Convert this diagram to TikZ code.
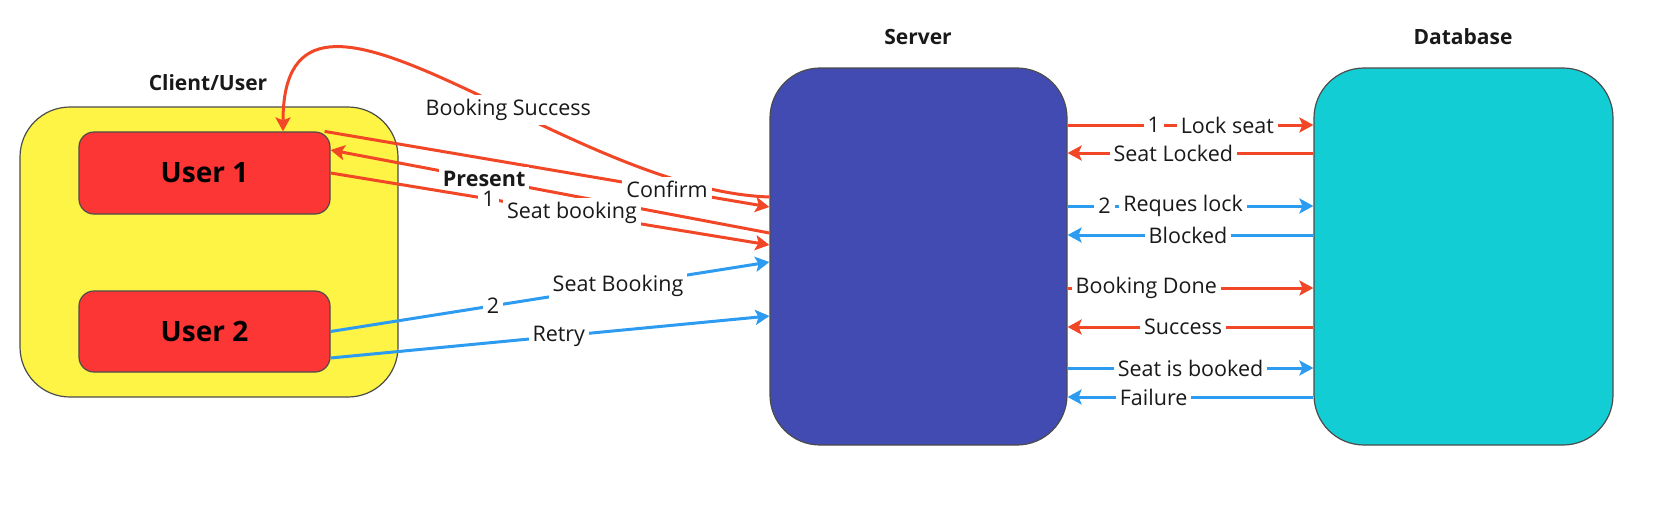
\documentclass[tikz,border=0pt]{standalone}
\usepackage{fontspec}
\setmainfont{Open Sans}
\usetikzlibrary{arrows.meta}
\definecolor{myellow}{HTML}{FEF445}
\definecolor{mred}{HTML}{FC3535}
\definecolor{marrow}{HTML}{F24726}
\definecolor{mblue}{HTML}{2D9BF0}
\definecolor{mserver}{HTML}{414BB2}
\definecolor{mdb}{HTML}{12CDD4}
\tikzset{
  box/.style={draw=black!70, line width=1.2pt, inner sep=0pt},
  head/.style={font=\fontsize{21}{25}\selectfont\bfseries, text=black!90},
  lbl/.style={fill=white, inner sep=4pt, text=black!90, font=\fontsize{21.5}{26}\selectfont},
  redarr/.style={draw=marrow, line width=3pt, -{Stealth[length=14pt,width=15pt,inset=3pt]}},
  bluearr/.style={draw=mblue, line width=3pt, -{Stealth[length=14pt,width=15pt,inset=3pt]}}
}

\begin{document}
\begin{tikzpicture}[x=1pt, y=-1pt]
    \useasboundingbox (0,0) rectangle (1662,507);

    \node [box, fill=myellow, rounded corners=50pt, minimum width=378pt, minimum height=290pt] (client) at (209,252) {};
    \node [box, fill=mred, rounded corners=15pt, minimum width=251pt, minimum height=82pt, font=\fontsize{28}{33}\selectfont\bfseries] (user1) at (204.5,173) {User 1};
    \node [box, fill=mred, rounded corners=15pt, minimum width=251pt, minimum height=81pt, font=\fontsize{28}{33}\selectfont\bfseries] (user2) at (204.5,331.5) {User 2};
    \node [box, fill=mserver, rounded corners=50pt, minimum width=297pt, minimum height=377pt] (server) at (918.5,256.5) {};
    \node [box, fill=mdb, rounded corners=50pt, minimum width=299pt, minimum height=377pt] (db) at (1463.5,256.5) {};

    \node [head] (clienthead) at (208,83) {Client/User};
    \node [head] (serverhead) at (918,37) {Server};
    \node [head] (dbhead) at (1463,37) {Database};

    % client <-> server
    \draw [redarr] ([yshift=59.5pt]server.west) .. controls +(-208,-7) and +(0,-212) .. ([xshift=78.5pt]user1.north) node [lbl, pos=0.4] {Booking Success};
    \draw [redarr] ([xshift=-6pt]user1.north east) -- ([yshift=49.5pt]server.west) node [lbl, pos=0.77] {Confirm};
    \draw [redarr] ([yshift=23.5pt]server.west) -- ([yshift=23pt]user1.east) node [lbl, pos=0.65, font=\fontsize{21.5}{26}\selectfont\bfseries] {Present};
    \draw [redarr] (user1.east) -- ([yshift=11.5pt]server.west) node [lbl, pos=0.36] {1} node [lbl, pos=0.55] {Seat booking};
    \draw [bluearr] (user2.east) -- ([yshift=-5.5pt]server.west) node [lbl, pos=0.37] {2} node [lbl, pos=0.655] {Seat Booking};
    \draw [bluearr] ([yshift=-26.5pt]user2.east) -- ([yshift=-59.5pt]server.west) node [lbl, pos=0.52] {Retry};

    % server <-> database
    \draw [redarr] ([yshift=131.5pt]server.east) -- ([yshift=131.5pt]db.west) node [lbl, pos=0.35] {1} node [lbl, pos=0.65] {Lock seat};
    \draw [redarr] ([yshift=103.5pt]db.west) -- ([yshift=103.5pt]server.east) node [lbl, pos=0.57] {Seat Locked};
    \draw [bluearr] ([yshift=50.5pt]server.east) -- ([yshift=50.5pt]db.west) node [lbl, pos=0.15] {2} node [lbl, pos=0.47] {Reques lock};
    \draw [bluearr] ([yshift=21.5pt]db.west) -- ([yshift=21.5pt]server.east) node [lbl, pos=0.51] {Blocked};
    \draw [redarr] ([yshift=-31.5pt]server.east) -- ([yshift=-31.5pt]db.west) node [lbl, pos=0.32] {Booking Done};
    \draw [redarr] ([yshift=-70.5pt]db.west) -- ([yshift=-70.5pt]server.east) node [lbl, pos=0.53] {Success};
    \draw [bluearr] ([yshift=-111.5pt]server.east) -- ([yshift=-111.5pt]db.west) node [lbl, pos=0.5] {Seat is booked};
    \draw [bluearr] ([yshift=-140.5pt]db.west) -- ([yshift=-140.5pt]server.east) node [lbl, pos=0.65] {Failure};
\end{tikzpicture}
\end{document}
